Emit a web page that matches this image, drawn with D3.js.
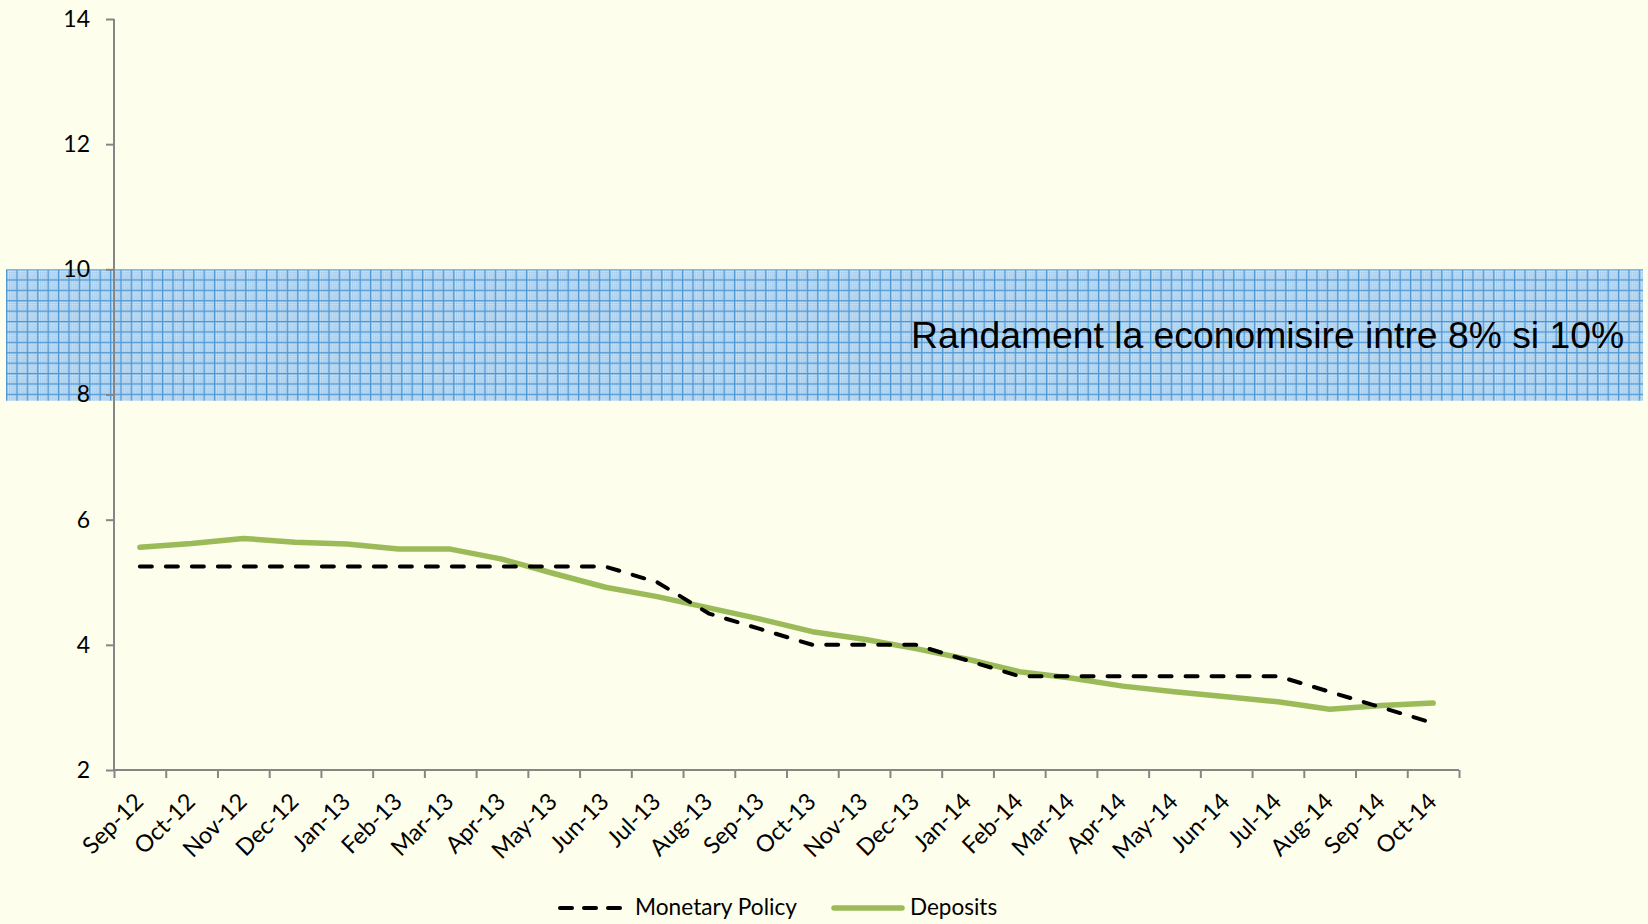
<!DOCTYPE html>
<html>
<head>
<meta charset="utf-8">
<script src="https://cdn.jsdelivr.net/npm/d3@7"></script>
<style>
  html, body { margin: 0; padding: 0; background: #FEFEEC; }
  svg { display: block; }
</style>
</head>
<body>
<svg id="chart" width="1648" height="924"></svg>
<script>
const categories = ["Sep-12","Oct-12","Nov-12","Dec-12","Jan-13","Feb-13","Mar-13","Apr-13","May-13","Jun-13","Jul-13","Aug-13","Sep-13","Oct-13","Nov-13","Dec-13","Jan-14","Feb-14","Mar-14","Apr-14","May-14","Jun-14","Jul-14","Aug-14","Sep-14","Oct-14"];
const monetaryPolicy = [5.25,5.25,5.25,5.25,5.25,5.25,5.25,5.25,5.25,5.25,5.0,4.5,4.25,4.0,4.0,4.0,3.75,3.5,3.5,3.5,3.5,3.5,3.5,3.25,3.0,2.75];
const deposits = [5.56,5.62,5.70,5.64,5.61,5.53,5.53,5.37,5.14,4.92,4.77,4.59,4.41,4.21,4.09,3.94,3.77,3.57,3.47,3.34,3.25,3.17,3.09,2.97,3.03,3.07];
const yTicks = [2,4,6,8,10,12,14];
const bandLow = 7.9, bandHigh = 10;
const bandLabel = "Randament la economisire intre 8% si 10%";
const seriesNames = ["Monetary Policy", "Deposits"];

const svg = d3.select("#chart");
const W = 1648, H = 924;
svg.append("rect").attr("width", W).attr("height", H).attr("fill", "#FEFEEC");

const x0 = 114, x1 = 1459;
const x = d3.scaleBand().domain(categories).range([x0, x1]);
const xEdge = d3.scaleLinear().domain([0, categories.length]).range([x0, x1]);
const y = d3.scaleLinear().domain([2, 14]).range([770, 19]);

// patterns
const defs = svg.append("defs");
const dots = defs.append("pattern").attr("id", "dots").attr("width", 2).attr("height", 2)
  .attr("patternUnits", "userSpaceOnUse");
dots.append("rect").attr("width", 2).attr("height", 2).attr("fill", "#abd0ee");
dots.append("rect").attr("width", 1).attr("height", 1).attr("fill", "#dcecf8");
dots.append("rect").attr("x", 1).attr("y", 1).attr("width", 1).attr("height", 1).attr("fill", "#92c2e8");
const grid = defs.append("pattern").attr("id", "grid").attr("width", 10.4).attr("height", 10.4)
  .attr("patternUnits", "userSpaceOnUse").attr("x", 6).attr("y", 269);
grid.append("rect").attr("width", 10.4).attr("height", 10.4).attr("fill", "url(#dots)");
grid.append("rect").attr("x", 0).attr("y", 0).attr("width", 1.2).attr("height", 10.4).attr("fill", "#4d98d6");
grid.append("rect").attr("x", 0).attr("y", 0).attr("width", 10.4).attr("height", 1.2).attr("fill", "#4d98d6");

// band
svg.append("rect")
  .attr("x", 6).attr("width", 1643 - 6)
  .attr("y", y(bandHigh)).attr("height", y(bandLow) - y(bandHigh))
  .attr("fill", "url(#grid)");

// y axis
const yAxis = svg.append("g").attr("transform", `translate(${x0},0)`)
  .call(d3.axisLeft(y).tickValues(yTicks).tickSize(8).tickPadding(16).tickFormat(d3.format("d")));
yAxis.select(".domain").attr("stroke", "#868686").attr("stroke-width", 2).attr("d", `M0,${y(14)}V${y(2)}`);
yAxis.selectAll(".tick line").attr("stroke", "#868686").attr("stroke-width", 2);
yAxis.selectAll(".tick text").attr("font-family", "Lato, sans-serif").attr("font-size", 23).attr("fill", "#000");

// x axis ticks at band edges
const xAxisTicks = svg.append("g").attr("transform", `translate(0,${y(2)})`)
  .call(d3.axisBottom(xEdge).tickValues(d3.range(categories.length + 1)).tickSize(8).tickFormat(""));
xAxisTicks.select(".domain").attr("stroke", "#868686").attr("stroke-width", 2).attr("d", `M${x0},0H${x1}`);
xAxisTicks.selectAll(".tick line").attr("stroke", "#868686").attr("stroke-width", 2);

// x labels
const xLabels = svg.append("g").attr("transform", `translate(0,${y(2)})`)
  .call(d3.axisBottom(x).tickSize(0).tickPadding(0));
xLabels.select(".domain").remove();
xLabels.selectAll(".tick text")
  .attr("font-family", "Lato, sans-serif").attr("font-size", 23.5).attr("fill", "#000")
  .attr("text-anchor", "end").attr("dy", null).attr("y", 0)
  .attr("transform", "translate(5,33) rotate(-45)");

// band label
svg.append("text").attr("x", 911).attr("y", 348)
  .attr("font-family", "'Liberation Sans', Arial, sans-serif").attr("font-size", 37.3).attr("fill", "#000")
  .text(bandLabel);

// lines
const line = d3.line().x((d, i) => x(categories[i]) + x.bandwidth() / 2).y(d => y(d));
svg.append("path").datum(deposits).attr("d", line)
  .attr("fill", "none").attr("stroke", "#9BBB59").attr("stroke-width", 5.5).attr("stroke-linejoin", "round").attr("stroke-linecap", "round");
svg.append("path").datum(monetaryPolicy).attr("d", line)
  .attr("fill", "none").attr("stroke", "#000").attr("stroke-width", 4).attr("stroke-dasharray", "12,14")
  .attr("stroke-linecap", "round").attr("stroke-linejoin", "round");

// legend
const lg = svg.append("g");
lg.append("line").attr("x1", 560).attr("x2", 628).attr("y1", 908).attr("y2", 908)
  .attr("stroke", "#000").attr("stroke-width", 4).attr("stroke-dasharray", "12,12").attr("stroke-linecap", "round");
lg.append("text").attr("x", 635).attr("y", 915).attr("font-family", "Lato, sans-serif").attr("font-size", 22.7)
  .attr("fill", "#000").text(seriesNames[0]);
lg.append("line").attr("x1", 834).attr("x2", 902).attr("y1", 908).attr("y2", 908)
  .attr("stroke", "#9BBB59").attr("stroke-width", 5.5).attr("stroke-linecap", "round");
lg.append("text").attr("x", 910).attr("y", 915).attr("font-family", "Lato, sans-serif").attr("font-size", 22.5)
  .attr("fill", "#000").text(seriesNames[1]);
</script>
</body>
</html>
